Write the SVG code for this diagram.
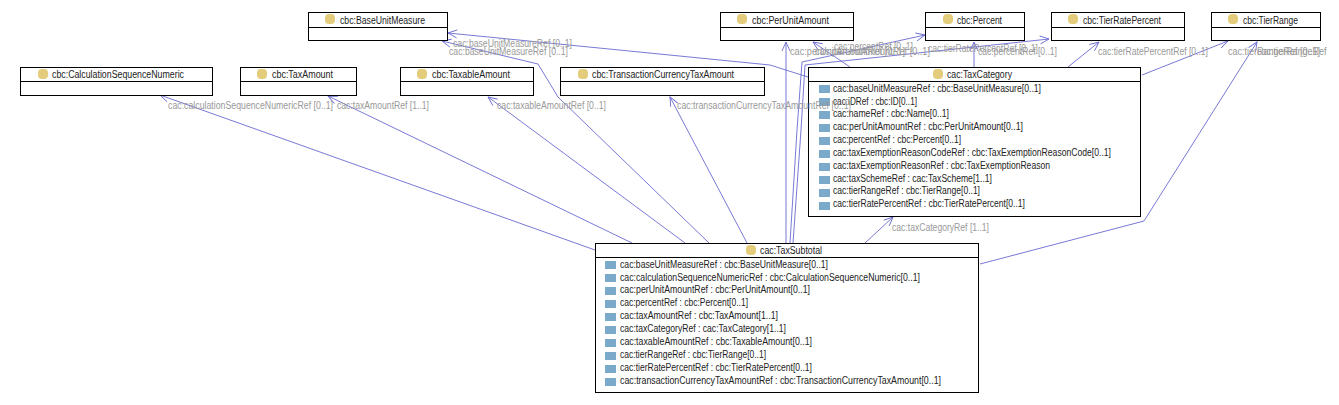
<svg xmlns="http://www.w3.org/2000/svg" width="1339" height="405" viewBox="0 0 1339 405">
<style>
text{font-family:"Liberation Sans",Arial,sans-serif;font-size:10px;fill:#222}
.l{fill:#999}
.b{fill:#fff;stroke:#000;stroke-width:1}
.d{stroke:#000;stroke-width:1}
.c{fill:none;stroke:#6a6ad0;stroke-width:.9;marker-end:url(#open)}
.h{fill:#e3cd7c}
.a{fill:#7ba9c9}
</style>
<defs>
<marker id="open" markerUnits="userSpaceOnUse" markerWidth="12" markerHeight="12" refX="10" refY="6" orient="auto" overflow="visible"><path d="M1 2L10 6L1 10" fill="none" stroke="#6a6ad0" stroke-width=".9"/></marker>
<rect id="dot" x="-5" y="-5" width="10" height="10" rx="4" class="h"/>
<rect id="sq" width="11" height="8" class="a"/>
<clipPath id="edge"><rect x="0" y="0" width="1329" height="405"/></clipPath>
</defs>
<rect width="1339" height="405" fill="#fff"/>
<g id="connectors">
<path class="c" d="M808 77L770 65L448 33"/>
<path class="c" d="M709 243L558 97L538 64L442 41"/>
<path class="c" d="M595 250L160 95"/>
<path class="c" d="M632 243L328 96"/>
<path class="c" d="M685 243L488 97"/>
<path class="c" d="M747 243L670 97"/>
<path class="c" d="M786 243V42"/>
<path class="c" d="M790 243L797 130L802 62L925 35"/>
<path class="c" d="M793 243L801 130L805 65L1049 39"/>
<path class="c" d="M850 67L813 42"/>
<path class="c" d="M974 67V42"/>
<path class="c" d="M1068 67L1099 42"/>
<path class="c" d="M1142 75L1228 41"/>
<path class="c" d="M865 243L893 217"/>
<path class="c" d="M980 264L1144 221L1257 42"/>
</g>
<g id="n-baseunit"><rect class="b" x="308.500" y="12.500" width="139" height="28"/><path class="d" d="M308 27.500H448"/><use href="#dot" x="330" y="19"/><text x="340" y="24" textLength="85" lengthAdjust="spacingAndGlyphs">cbc:BaseUnitMeasure</text></g>
<g id="n-perunit"><rect class="b" x="720.500" y="12.500" width="133" height="28"/><path class="d" d="M720 27.500H854"/><use href="#dot" x="742" y="19"/><text x="752" y="24" textLength="77" lengthAdjust="spacingAndGlyphs">cbc:PerUnitAmount</text></g>
<g id="n-percent"><rect class="b" x="925.500" y="12.500" width="99" height="28"/><path class="d" d="M925 27.500H1025"/><use href="#dot" x="948" y="19"/><text x="957" y="24" textLength="45" lengthAdjust="spacingAndGlyphs">cbc:Percent</text></g>
<g id="n-tierrate"><rect class="b" x="1051.500" y="12.500" width="133" height="28"/><path class="d" d="M1051 27.500H1185"/><use href="#dot" x="1073" y="19"/><text x="1083" y="24" textLength="78" lengthAdjust="spacingAndGlyphs">cbc:TierRatePercent</text></g>
<g id="n-tierrange"><rect class="b" x="1211.500" y="12.500" width="109" height="28"/><path class="d" d="M1211 27.500H1321"/><use href="#dot" x="1233" y="19"/><text x="1243" y="24" textLength="55" lengthAdjust="spacingAndGlyphs">cbc:TierRange</text></g>
<g id="n-calc"><rect class="b" x="20.500" y="67.500" width="192" height="28"/><path class="d" d="M20 81.500H213"/><use href="#dot" x="43" y="74"/><text x="52" y="78" textLength="132" lengthAdjust="spacingAndGlyphs">cbc:CalculationSequenceNumeric</text></g>
<g id="n-taxamount"><rect class="b" x="240.500" y="67.500" width="116" height="28"/><path class="d" d="M240 81.500H357"/><use href="#dot" x="262" y="74"/><text x="272" y="78" textLength="61" lengthAdjust="spacingAndGlyphs">cbc:TaxAmount</text></g>
<g id="n-taxable"><rect class="b" x="400.500" y="67.500" width="133" height="28"/><path class="d" d="M400 81.500H534"/><use href="#dot" x="422" y="74"/><text x="432" y="78" textLength="78" lengthAdjust="spacingAndGlyphs">cbc:TaxableAmount</text></g>
<g id="n-trans"><rect class="b" x="560.500" y="67.500" width="204" height="28"/><path class="d" d="M560 81.500H765"/><use href="#dot" x="583" y="74"/><text x="592" y="78" textLength="142" lengthAdjust="spacingAndGlyphs">cbc:TransactionCurrencyTaxAmount</text></g>
<g id="n-taxcat"><rect class="b" x="808.500" y="67.500" width="332" height="149"/><path class="d" d="M808 81.500H1141"/><use href="#dot" x="938" y="74"/><text x="947" y="78" textLength="65" lengthAdjust="spacingAndGlyphs">cac:TaxCategory</text>
<use href="#sq" x="819" y="85"/><text x="833" y="92" textLength="208" lengthAdjust="spacingAndGlyphs">cac:baseUnitMeasureRef : cbc:BaseUnitMeasure[0..1]</text>
<use href="#sq" x="819" y="98"/><text x="833" y="105" textLength="84" lengthAdjust="spacingAndGlyphs">cac:iDRef : cbc:ID[0..1]</text>
<use href="#sq" x="819" y="111"/><text x="833" y="117" textLength="116" lengthAdjust="spacingAndGlyphs">cac:nameRef : cbc:Name[0..1]</text>
<use href="#sq" x="819" y="124"/><text x="833" y="130" textLength="190" lengthAdjust="spacingAndGlyphs">cac:perUnitAmountRef : cbc:PerUnitAmount[0..1]</text>
<use href="#sq" x="819" y="137"/><text x="833" y="143" textLength="128" lengthAdjust="spacingAndGlyphs">cac:percentRef : cbc:Percent[0..1]</text>
<use href="#sq" x="819" y="150"/><text x="833" y="156" textLength="278" lengthAdjust="spacingAndGlyphs">cac:taxExemptionReasonCodeRef : cbc:TaxExemptionReasonCode[0..1]</text>
<use href="#sq" x="819" y="163"/><text x="833" y="169" textLength="217" lengthAdjust="spacingAndGlyphs">cac:taxExemptionReasonRef : cbc:TaxExemptionReason</text>
<use href="#sq" x="819" y="176"/><text x="833" y="182" textLength="159" lengthAdjust="spacingAndGlyphs">cac:taxSchemeRef : cac:TaxScheme[1..1]</text>
<use href="#sq" x="819" y="189"/><text x="833" y="194" textLength="147" lengthAdjust="spacingAndGlyphs">cac:tierRangeRef : cbc:TierRange[0..1]</text>
<use href="#sq" x="819" y="202"/><text x="833" y="207" textLength="192" lengthAdjust="spacingAndGlyphs">cac:tierRatePercentRef : cbc:TierRatePercent[0..1]</text></g>
<g id="n-taxsub"><rect class="b" x="595.500" y="243.500" width="383" height="149"/><path class="d" d="M595 257.500H979"/><use href="#dot" x="751" y="250"/><text x="760" y="254" textLength="62" lengthAdjust="spacingAndGlyphs">cac:TaxSubtotal</text>
<use href="#sq" x="605" y="261"/><text x="620" y="268" textLength="208" lengthAdjust="spacingAndGlyphs">cac:baseUnitMeasureRef : cbc:BaseUnitMeasure[0..1]</text>
<use href="#sq" x="605" y="274"/><text x="620" y="281" textLength="300" lengthAdjust="spacingAndGlyphs">cac:calculationSequenceNumericRef : cbc:CalculationSequenceNumeric[0..1]</text>
<use href="#sq" x="605" y="287"/><text x="620" y="293" textLength="190" lengthAdjust="spacingAndGlyphs">cac:perUnitAmountRef : cbc:PerUnitAmount[0..1]</text>
<use href="#sq" x="605" y="300"/><text x="620" y="306" textLength="128" lengthAdjust="spacingAndGlyphs">cac:percentRef : cbc:Percent[0..1]</text>
<use href="#sq" x="605" y="313"/><text x="620" y="319" textLength="158" lengthAdjust="spacingAndGlyphs">cac:taxAmountRef : cbc:TaxAmount[1..1]</text>
<use href="#sq" x="605" y="326"/><text x="620" y="332" textLength="166" lengthAdjust="spacingAndGlyphs">cac:taxCategoryRef : cac:TaxCategory[1..1]</text>
<use href="#sq" x="605" y="339"/><text x="620" y="345" textLength="192" lengthAdjust="spacingAndGlyphs">cac:taxableAmountRef : cbc:TaxableAmount[0..1]</text>
<use href="#sq" x="605" y="352"/><text x="620" y="358" textLength="146" lengthAdjust="spacingAndGlyphs">cac:tierRangeRef : cbc:TierRange[0..1]</text>
<use href="#sq" x="605" y="365"/><text x="620" y="371" textLength="192" lengthAdjust="spacingAndGlyphs">cac:tierRatePercentRef : cbc:TierRatePercent[0..1]</text>
<use href="#sq" x="605" y="378"/><text x="620" y="384" textLength="321" lengthAdjust="spacingAndGlyphs">cac:transactionCurrencyTaxAmountRef : cbc:TransactionCurrencyTaxAmount[0..1]</text></g>
<g id="labels" clip-path="url(#edge)">
<text class="l" x="453" y="47" textLength="119" lengthAdjust="spacingAndGlyphs">cac:baseUnitMeasureRef [0..1]</text>
<text class="l" x="449" y="55" textLength="119" lengthAdjust="spacingAndGlyphs">cac:baseUnitMeasureRef [0..1]</text>
<text class="l" x="168" y="109" textLength="165" lengthAdjust="spacingAndGlyphs">cac:calculationSequenceNumericRef [0..1]</text>
<text class="l" x="337" y="109" textLength="92" lengthAdjust="spacingAndGlyphs">cac:taxAmountRef [1..1]</text>
<text class="l" x="497" y="109" textLength="109" lengthAdjust="spacingAndGlyphs">cac:taxableAmountRef [0..1]</text>
<text class="l" x="677" y="109" textLength="174" lengthAdjust="spacingAndGlyphs">cac:transactionCurrencyTaxAmountRef [0..1]</text>
<text class="l" x="790" y="55" textLength="115" lengthAdjust="spacingAndGlyphs">cac:perUnitAmountRef [0..1]</text>
<text class="l" x="815" y="55" textLength="115" lengthAdjust="spacingAndGlyphs">cac:perUnitAmountRef [0..1]</text>
<text class="l" x="834" y="50" textLength="79" lengthAdjust="spacingAndGlyphs">cac:percentRef [0..1]</text>
<text class="l" x="928" y="52" textLength="110" lengthAdjust="spacingAndGlyphs">cac:tierRatePercentRef [0..1]</text>
<text class="l" x="978" y="55" textLength="79" lengthAdjust="spacingAndGlyphs">cac:percentRef [0..1]</text>
<text class="l" x="1098" y="55" textLength="110" lengthAdjust="spacingAndGlyphs">cac:tierRatePercentRef [0..1]</text>
<text class="l" x="1228" y="55" textLength="92" lengthAdjust="spacingAndGlyphs">cac:tierRangeRef [0..1]</text>
<text class="l" x="1257" y="55" textLength="92" lengthAdjust="spacingAndGlyphs">cac:tierRangeRef [0..1]</text>
<text class="l" x="892" y="231" textLength="97" lengthAdjust="spacingAndGlyphs">cac:taxCategoryRef [1..1]</text>
</g>
</svg>
